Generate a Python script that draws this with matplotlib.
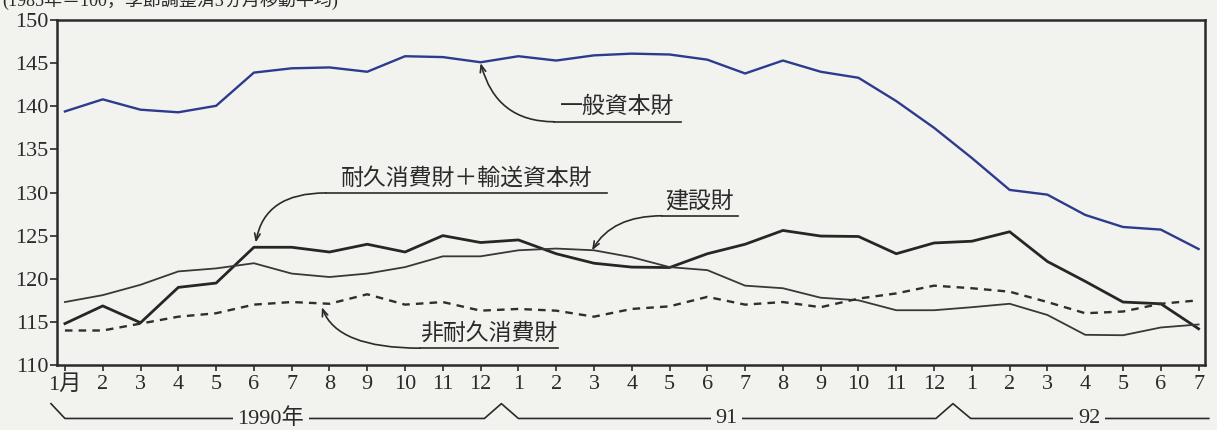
import matplotlib
matplotlib.use("Agg")
import matplotlib.pyplot as plt

# ---- data -----------------------------------------------------------------
months = ['1月', '2', '3', '4', '5', '6', '7', '8', '9', '10', '11', '12',
          '1', '2', '3', '4', '5', '6', '7', '8', '9', '10', '11', '12',
          '1', '2', '3', '4', '5', '6', '7']

general_capital = [139.4, 140.8, 139.6, 139.3, 140.05, 143.9, 144.4, 144.5, 144.0, 145.8, 145.7, 145.1,
                   145.8, 145.3, 145.9, 146.1, 146.0, 145.4, 143.8, 145.3, 144.0, 143.3, 140.6, 137.5,
                   134.0, 130.3, 129.75, 127.4, 126.0, 125.7, 123.45]
durable_transport = [114.8, 116.85, 114.9, 119.0, 119.5, 123.65, 123.65, 123.1, 124.0, 123.1, 125.0, 124.2,
                     124.5, 122.9, 121.8, 121.35, 121.3, 122.9, 124.0, 125.6, 124.95, 124.9, 122.9, 124.15,
                     124.35, 125.45, 122.0, 119.7, 117.3, 117.1, 114.2]
construction = [117.3, 118.1, 119.3, 120.85, 121.2, 121.8, 120.6, 120.2, 120.6, 121.35, 122.6, 122.6,
                123.3, 123.5, 123.3, 122.5, 121.35, 121.0, 119.2, 118.9, 117.8, 117.5, 116.35, 116.35,
                116.7, 117.1, 115.8, 113.5, 113.45, 114.35, 114.7]
nondurable = [114.0, 114.0, 114.8, 115.6, 116.0, 117.0, 117.3, 117.1, 118.2, 117.0, 117.3, 116.3,
              116.5, 116.3, 115.6, 116.5, 116.8, 117.9, 117.0, 117.3, 116.7, 117.7, 118.3, 119.2,
              118.9, 118.5, 117.3, 116.0, 116.2, 117.1, 117.5]

series_labels = ['一般資本財', '耐久消費財＋輸送資本財', '建設財', '非耐久消費財']
year_labels = ['1990年', '91', '92']
y_ticks = [110, 115, 120, 125, 130, 135, 140, 145, 150]
header = '(1985年＝100，季節調整済3ヵ月移動平均)'

# ---- style ----------------------------------------------------------------
BG = '#f2f3ef'
INK = '#2a2a2a'
SERIF = ['Liberation Serif', 'Noto Sans CJK JP']
CJK = ['Noto Sans CJK JP', 'DejaVu Sans']

fig = plt.figure(figsize=(12.17, 4.30), dpi=100, facecolor=BG)
ax = fig.add_axes([57 / 1217, 1 - 365 / 430, (1205 - 57) / 1217, 345 / 430])
ax.set_facecolor(BG)

x = list(range(len(months)))
ax.plot(x, general_capital, color='#2e3a8e', lw=1.7, solid_joinstyle='round')
ax.plot(x, durable_transport, color='#262626', lw=2.0, solid_joinstyle='round')
ax.plot(x, construction, color='#383838', lw=1.3, solid_joinstyle='round')
ax.plot(x, nondurable, color='#2e2e2e', lw=1.7, linestyle=(0, (3.2, 2.6)))

ax.set_xlim(-0.21, 30.17)
ax.set_ylim(110, 150)
ax.set_yticks(y_ticks)
ax.set_yticklabels([str(v) for v in y_ticks], family=SERIF, fontsize=16, color=INK)
ax.set_xticks(x)
ax.set_xticklabels(months, family=SERIF, fontsize=16, color=INK)
ax.tick_params(axis='y', direction='out', length=5, width=1.2, pad=1, colors=INK)
ax.tick_params(axis='x', direction='out', length=4, width=1.2, pad=3, colors=INK)
for s in ax.spines.values():
    s.set_linewidth(1.8)
    s.set_color(INK)

# ---- annotations ----------------------------------------------------------
def label(text, x0, x1, y, tip, connection):
    ax.plot([x0, x1], [y, y], color=INK, lw=1.2)
    ax.text((x0 + x1) / 2, y + 0.4, text, ha='center', va='bottom',
            family=CJK, fontsize=16.5, color=INK)
    ax.annotate('', xy=tip, xytext=(x0, y),
                arrowprops=dict(arrowstyle='->,head_length=0.5,head_width=0.2',
                                color=INK, lw=1.2, shrinkA=0, shrinkB=0,
                                connectionstyle=connection))

label(series_labels[0], 12.95, 16.3, 138.2, (11.0, 145.0), 'angle3,angleA=0,angleB=105')
label(series_labels[1], 6.9, 14.35, 129.95, (5.05, 124.2), 'angle3,angleA=0,angleB=80')
label(series_labels[2], 15.8, 17.8, 127.3, (13.95, 123.3), 'angle3,angleA=0,angleB=60')
label(series_labels[3], 9.4, 13.05, 111.95, (6.8, 116.7), 'angle3,angleA=0,angleB=-70')

# ---- year brackets under the axis ----------------------------------------
tr = ax.get_xaxis_transform()
yb, yp = -0.155, -0.112
ax.plot([-0.37, 0.0, 11.1, 11.55, 12.0, 23.05, 23.5, 23.97, 30.27],
        [yp, yb, yb, yp, yb, yb, yp, yb, yb],
        transform=tr, clip_on=False, color=INK, lw=1.2)
for xc, t in zip([5.45, 17.5, 27.1], year_labels):
    ax.text(xc, yb, t, transform=tr, ha='center', va='center', family=SERIF,
            fontsize=16, color=INK,
            bbox=dict(boxstyle='square,pad=0.2', fc=BG, ec='none'))

fig.text(0.002, 1.0, header, ha='left', va='center', family=SERIF,
         fontsize=13, color=INK)

fig.savefig('out.png', dpi=100, facecolor=BG)
